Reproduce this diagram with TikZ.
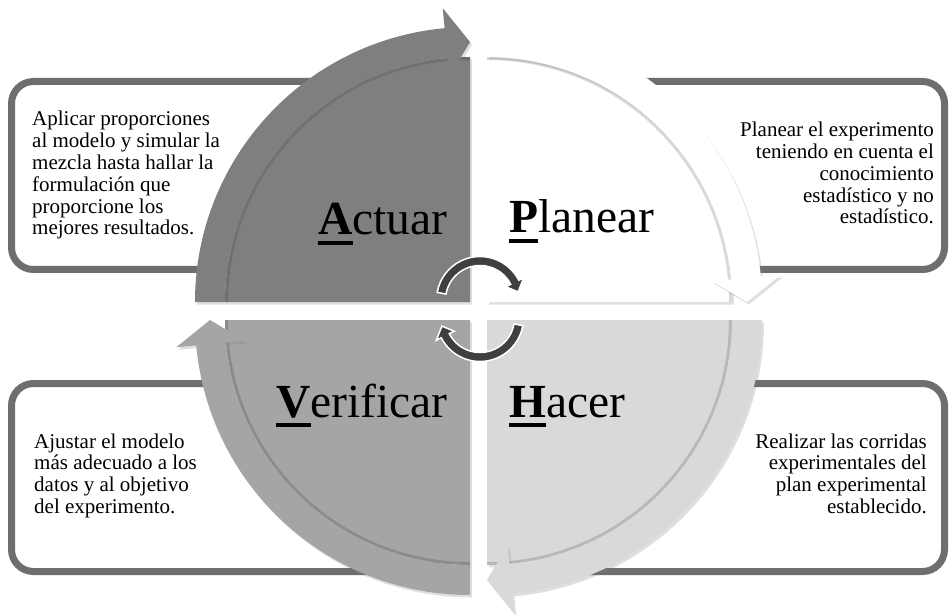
\documentclass[tikz,border=0pt]{standalone}
\usepackage{fontspec}
\setmainfont{Liberation Serif}
\usetikzlibrary{calc,shadows}
\definecolor{actgray}{HTML}{7F7F7F}
\definecolor{vergray}{HTML}{A5A5A5}
\definecolor{hacgray}{HTML}{D9D9D9}
\definecolor{boxgray}{HTML}{6E6E6E}
\definecolor{cyclegray}{HTML}{3F3F3F}
\tikzset{box/.style={draw=boxgray,line width=7,fill=white,rounded corners=22,drop shadow={opacity=.2,shadow xshift=1.5pt,shadow yshift=-2pt}},
 quad/.style={drop shadow={opacity=.25,shadow xshift=2pt,shadow yshift=-2.5pt}},
 bandshade/.style={line width=3,draw=black,opacity=.15},
 mini/.style={fill=cyclegray,draw=white,line width=1.5},
 body/.style={inner sep=0,font=\fontsize{21}{21.8}\selectfont},
 title/.style={inner sep=0,anchor=base west,font=\fontsize{47.5}{50}\selectfont}}
% curved band with head: style, centre, start angle, head angle, tip angle
\newcommand{\ringarrow}[5]{\path[#1] ($(#2)+(#3:\rin)$) arc[start angle=#3,end angle=#4,radius=\rin] -- ($(#2)+(#4:\hin)$) -- ($(#2)+(#5:\rmid)$) -- ($(#2)+(#4:\hout)$) -- ($(#2)+(#4:\rout)$) arc[start angle=#4,end angle=#3,radius=\rout] -- cycle;}
\newcommand{\quarterdisk}[4]{\path[#1] (#2) -- ($(#2)+(#3:\rin)$) arc[start angle=#3,end angle=#4,radius=\rin] -- cycle;
\draw[bandshade] ($(#2)+(#3:\rin-1.5)$) arc[start angle=#3,end angle=#4,radius=\rin-1.5];}
\newcommand{\firstletter}[1]{\setbox0=\hbox{\bfseries#1}\rlap{\rule[-10pt]{\wd0}{4pt}}\box0}

\begin{document}
\begin{tikzpicture}[x=1pt,y=1pt]
\fill[white] (0,0) rectangle (950,614);\useasboundingbox (0,0) rectangle (950,614);
% text boxes behind the cycle
\draw[box] (11.5,344.5) rectangle (440,532.5);\draw[box] (540,344.5) rectangle (944.5,532.5);
\draw[box] (11.5,42.5) rectangle (440,230.5);\draw[box] (540,42.5) rectangle (944.5,230.5);
% the four quarters
\coordinate (cA) at (470,312);\coordinate (cP) at (487,312);\coordinate (cH) at (487,294);\coordinate (cV) at (470,294);
\def\rin{245}\def\rout{275}\def\hin{226}\def\hout{295}\def\rmid{260}
\quarterdisk{quad,fill=actgray}{cA}{180}{90}\ringarrow{quad,fill=actgray}{cA}{180}{95.3}{90}
\quarterdisk{quad,fill=white}{cP}{90}{0}\ringarrow{quad,fill=white}{cP}{90}{5.3}{0}
\quarterdisk{quad,fill=hacgray}{cH}{0}{-90}\ringarrow{quad,fill=hacgray}{cH}{0}{-84.7}{-90}
\quarterdisk{quad,fill=vergray}{cV}{-90}{-180}\ringarrow{quad,fill=vergray}{cV}{-90}{-174.7}{-180}
% labels
\node[title] (actuar) at (318,379) {\firstletter{A}ctuar};
\node[title] (planear) at (509,381) {\firstletter{P}lanear};
\node[title] (verificar) at (276,197) {\firstletter{V}erificar};
\node[title] (hacer) at (509,197) {\firstletter{H}acer};
\node[body,anchor=base west] (actText) at (32,488) {\begin{tabular}[t]{@{}l@{}}Aplicar proporciones\\al modelo y simular la\\mezcla hasta hallar la\\formulación que\\proporcione los\\mejores resultados.\end{tabular}};
\node[body,anchor=base east] (planText) at (934,477.3) {\begin{tabular}[t]{@{}r@{}}Planear el experimento\\teniendo en cuenta el\\conocimiento\\estadístico y no\\estadístico.\end{tabular}};
\node[body,anchor=base west] (verText) at (34,166) {\begin{tabular}[t]{@{}l@{}}Ajustar el modelo\\más adecuado a los\\datos y al objetivo\\del experimento.\end{tabular}};
\node[body,anchor=base east] (hacText) at (927,166) {\begin{tabular}[t]{@{}r@{}}Realizar las corridas\\experimentales del\\plan experimental\\establecido.\end{tabular}};
% small cycle arrows in the middle
\def\rin{34.5}\def\rout{43.5}\def\hin{29}\def\hout{49}\def\rmid{39}
\ringarrow{mini}{480,314}{170}{27}{12}
\ringarrow{mini}{480,296}{-10}{-153}{-168}
\end{tikzpicture}
\end{document}
